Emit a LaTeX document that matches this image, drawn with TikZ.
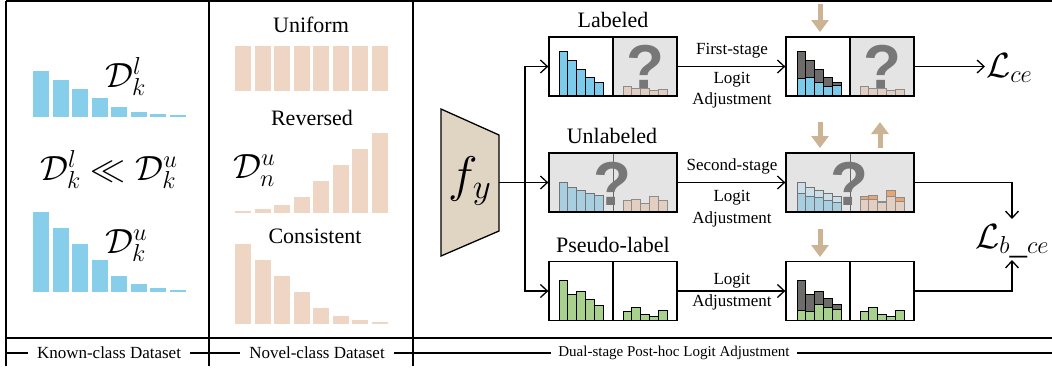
\RequirePackage{fix-cm}
\documentclass[tikz,border=0pt]{standalone}
\usepackage{fontspec}
\setmainfont{Liberation Serif}
\newfontfamily\qfont{Liberation Sans}
\usetikzlibrary{arrows.meta}
\definecolor{kblue}{HTML}{87CEEB}
\definecolor{npeach}{HTML}{EFD5C3}
\definecolor{bblue}{HTML}{7DCBEA}
\definecolor{lblue}{HTML}{A8CFE0}
\definecolor{llblue}{HTML}{CADFE8}
\definecolor{dgray}{HTML}{6E6B6B}
\definecolor{bggray}{HTML}{E4E4E4}
\definecolor{qgray}{HTML}{777777}
\definecolor{speach}{HTML}{E3CFC1}
\definecolor{orng}{HTML}{E9A46F}
\definecolor{grn}{HTML}{A9D18E}
\definecolor{tanc}{HTML}{CBB393}
\definecolor{trapc}{HTML}{E0D4C3}
\newcommand\mybars[4]{\foreach \h [count=\i from 0] in {#4} \draw[#3] (#1+\i*8.8,#2) rectangle ++(8.8,-\h);}
\begin{document}
\begin{tikzpicture}[x=1pt,y=-1pt,
  frame/.style={line width=1.3pt,draw=black},
  boxn/.style={draw=black,line width=1.3pt,minimum width=128pt,minimum height=59pt,inner sep=0pt},
  halfn/.style={minimum width=64pt,minimum height=59pt,inner sep=0pt},
  arr/.style={line width=1.3pt,-{Straight Barb[length=7pt,width=13pt]}},
  tanarr/.style={draw=tanc,line width=5pt,-{Triangle[length=12pt,width=17pt]}},
  title/.style={font=\fontsize{22}{26}\selectfont,anchor=base,inner sep=0pt},
  alabel/.style={font=\fontsize{17}{20}\selectfont,anchor=base,inner sep=0pt},
  blabel/.style={fill=white,inner xsep=9pt,inner ysep=1pt},
  mathbig/.style={font=\fontsize{35}{40}\selectfont,inner sep=0pt},
  qmark/.style={anchor=base,font={\qfont\bfseries\fontsize{62}{62}\selectfont},text=qgray,inner sep=0pt},
  bbar/.style={fill=bblue,draw=black,line width=0.8pt},
  lbar/.style={fill=lblue,draw=black!55,line width=0.8pt},
  llbar/.style={fill=llblue,draw=black!55,line width=0.8pt},
  pbar/.style={fill=speach,draw=black!45,line width=0.8pt},
  obar/.style={fill=orng,draw=black!45,line width=0.8pt},
  gbar/.style={fill=dgray,draw=black,line width=0.8pt},
  grbar/.style={fill=grn,draw=black,line width=0.8pt}]
\useasboundingbox (0,0) rectangle (1052,368);
% frame
\draw[frame] (6,1) -- (1052,1);
\draw[frame] (6,1) -- (6,366);
\draw[frame] (209,1) -- (209,366);
\draw[frame] (413,1) -- (413,366);
\draw[frame] (6,338) -- (1052,338);
\draw[frame] (6,353) -- (1052,353);
\node[blabel,font=\fontsize{17}{20}\selectfont] (kcd) at (109,353) {Known-class Dataset};
\node[blabel,font=\fontsize{17}{20}\selectfont] (ncd) at (317,353) {Novel-class Dataset};
\node[blabel,font=\fontsize{15}{18}\selectfont,inner xsep=7pt] (dsl) at (674,353) {Dual-stage Post-hoc Logit Adjustment};
% known-class panel
\foreach \h [count=\i from 0] in {46,37,28,19,10,5,3,2} \fill[kblue] (33+\i*19.5,117) rectangle ++(16,-\h);
\foreach \h [count=\i from 0] in {80,64,48,32,16,8,4,2} \fill[kblue] (33+\i*19.5,292) rectangle ++(16,-\h);
\node[mathbig,anchor=base west] (dlk) at (105,87) {$\mathcal{D}^l_k$};
\node[mathbig,anchor=base west] (rel) at (40,180) {$\mathcal{D}^l_k \ll \mathcal{D}^u_k$};
\node[mathbig,anchor=base west] (duk) at (105,253) {$\mathcal{D}^u_k$};
% novel-class panel
\node[title] (uni) at (311,32) {Uniform};
\node[title] (rev) at (312,125) {Reversed};
\node[title] (con) at (315,243) {Consistent};
\foreach \h [count=\i from 0] in {45,45,45,45,45,45,45,45} \fill[npeach] (235+\i*19.5,91) rectangle ++(16,-\h);
\foreach \h [count=\i from 0] in {2,4,8,16,32,48,64,80} \fill[npeach] (235+\i*19.5,213) rectangle ++(16,-\h);
\foreach \h [count=\i from 0] in {80,64,48,32,16,8,4,2} \fill[npeach] (235+\i*19.5,324) rectangle ++(16,-\h);
\node[mathbig,anchor=base west] (dun) at (233,178) {$\mathcal{D}^u_n$};
% model
\draw[line width=1.3pt,fill=trapc] (441,109) -- (499,135) -- (499,231) -- (441,256) -- cycle;
\node[font=\fontsize{50}{54}\selectfont,inner sep=0pt] (fy) at (470,181) {$f_y$};
\coordinate (fyout) at (499,182.5);
\coordinate (split) at (525,182.5);
% row titles
\node[title] (tl) at (613,27) {Labeled};
\node[title] (tu) at (612,143) {Unlabeled};
\node[title] (tp) at (613,252) {Pseudo-label};
% ---------- left boxes ----------
\node[halfn,fill=white] (b1a) at (581,66.5) {};
\node[halfn,fill=bggray] (b1b) at (645,66.5) {};
\mybars{559}{96}{bbar}{45,36,27,19,14}
\mybars{623}{96}{pbar}{10,8,8,6,7}
\node[qmark] (q1) at (645,88) {?};
\node[halfn,fill=bggray] (b2a) at (581,182.5) {};
\node[halfn,fill=bggray] (b2b) at (645,182.5) {};
\draw[black!60,line width=0.8pt] (613,153) -- (613,212);
\node[qmark] (q2) at (612,205) {?};
\mybars{559}{212}{lbar}{30,25,22,19,17}
\mybars{623}{212}{pbar}{12,13,9,16,12}
\node[halfn,fill=white] (b3a) at (581,291) {};
\node[halfn,fill=white] (b3b) at (645,291) {};
\mybars{559}{320}{grbar}{40,26,29,21,15}
\mybars{623}{320}{grbar}{9,13,6,4,10}
\node[boxn] (B1) at (613,66.5) {};
\node[boxn] (B2) at (613,182.5) {};
\node[boxn] (B3) at (613,291) {};
\draw[line width=1.3pt] (B1.north) -- (B1.south);
\draw[line width=1.3pt] (B3.north) -- (B3.south);
% ---------- right boxes ----------
\node[halfn,fill=white] (r1a) at (818,66.5) {};
\node[halfn,fill=bggray] (r1b) at (882,66.5) {};
\mybars{797}{96}{gbar}{45,36,27,19,14}
\mybars{797}{96}{bbar}{18,19,14,10,11}
\mybars{860}{96}{pbar}{10,8,8,6,7}
\node[qmark] (q3) at (882,88) {?};
\node[halfn,fill=bggray] (r2a) at (818,182.5) {};
\node[halfn,fill=bggray] (r2b) at (882,182.5) {};
\draw[black!60,line width=0.8pt] (850,153) -- (850,212);
\node[qmark] (q4) at (849,205) {?};
\mybars{797}{212}{llbar}{30,25,22,19,16}
\mybars{797}{212}{lbar}{19,16,15,12,10}
\mybars{860}{212}{obar}{16,17,11,22,15}
\mybars{860}{212}{pbar}{13,13,10,16,11}
\node[halfn,fill=white] (r3a) at (818,291) {};
\node[halfn,fill=white] (r3b) at (882,291) {};
\mybars{797}{320}{gbar}{40,26,29,22,16}
\mybars{797}{320}{grbar}{10,9,16,13,11}
\mybars{860}{320}{grbar}{9,13,6,4,10}
\node[boxn] (R1) at (850,66.5) {};
\node[boxn] (R2) at (850,182.5) {};
\node[boxn] (R3) at (850,291) {};
\draw[line width=1.3pt] (R1.north) -- (R1.south);
\draw[line width=1.3pt] (R3.north) -- (R3.south);
% tan arrows
\draw[tanarr] (820,4) -- (820,32);
\draw[tanarr] (820,122) -- (820,148);
\draw[tanarr] (880,148) -- (880,122);
\draw[tanarr] (820,229) -- (820,257);
% connectors
\draw[line width=1.3pt] (fyout) -- (split);
\draw[arr] (split) -- (B2.west);
\draw[arr] (split) |- (B1.west);
\draw[arr] (split) |- (B3.west);
\draw[arr] (B1.east) -- (R1.west);
\draw[arr] (B2.east) -- (R2.west);
\draw[arr] (B3.east) -- (R3.west);
% arrow labels
\node[alabel] (a1) at (732,54) {First-stage};
\node[alabel] (a2) at (732,83) {Logit};
\node[alabel] (a3) at (732,104) {Adjustment};
\node[alabel] (a4) at (732,170) {Second-stage};
\node[alabel] (a5) at (732,201) {Logit};
\node[alabel] (a6) at (732,223) {Adjustment};
\node[alabel] (a7) at (732,284) {Logit};
\node[alabel] (a8) at (732,306) {Adjustment};
% losses
\node[mathbig,anchor=base west] (Lce) at (986,77) {$\mathcal{L}_{ce}$};
\coordinate (LceIn) at (985,66.5);
\draw[arr] (R1.east) -- (LceIn);
\node[mathbig,anchor=base west] (Lb) at (975,248) {$\mathcal{L}_{b\_ce}$};
\coordinate (LbTop) at (1012,219);
\coordinate (LbBot) at (1012,260);
\draw[arr] (R2.east) -| (LbTop);
\draw[arr] (R3.east) -| (LbBot);
\end{tikzpicture}
\end{document}
